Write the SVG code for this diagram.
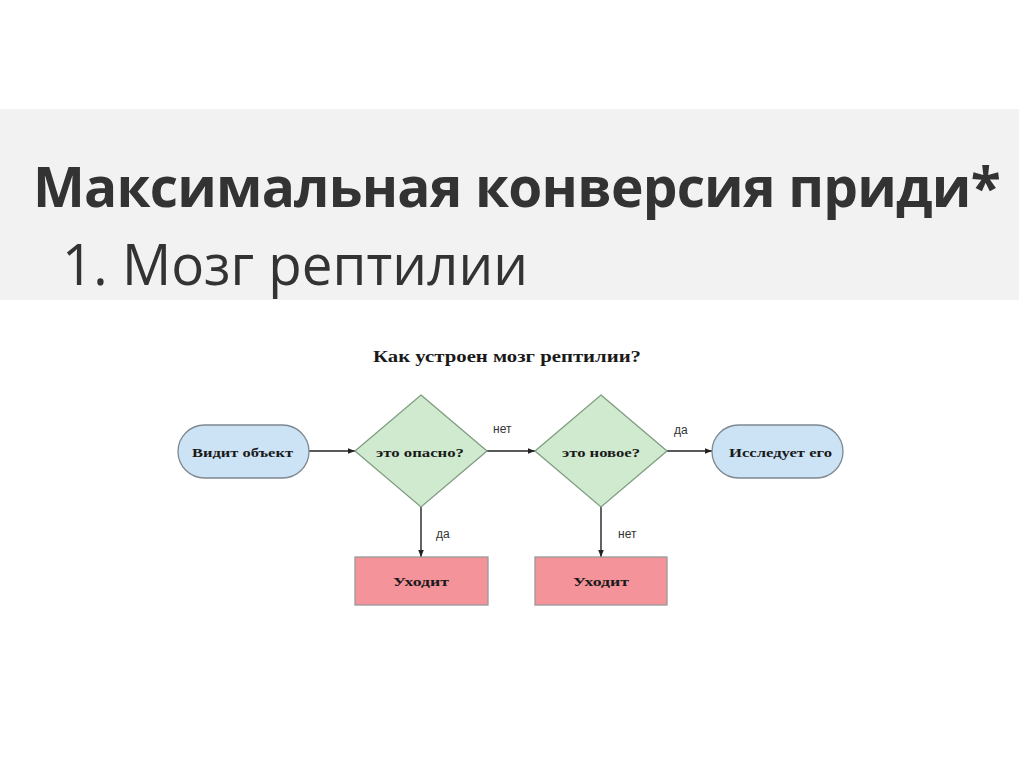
<svg xmlns="http://www.w3.org/2000/svg" width="1024" height="767" viewBox="0 0 1024 767">
<defs>
<style>
.h1{font-family:"Open Sans","Noto Sans",sans-serif;font-weight:700;font-size:55px;fill:#333}
.h2{font-family:"Open Sans","Noto Sans",sans-serif;font-weight:400;font-size:57px;fill:#333}
.dt{font-family:"Liberation Serif","DejaVu Serif",serif;font-weight:700;font-size:17px;fill:#1a1a1a}
.nt{font-family:"Liberation Serif","DejaVu Serif",serif;font-weight:700;font-size:13.5px;fill:#1a1a1a}
.lb{font-family:"Liberation Sans","Arial",sans-serif;font-size:12px;fill:#333}
.pill{fill:#cce2f5;stroke:#7d8890;stroke-width:1.3}
.dia{fill:#cfeacf;stroke:#7f9c80;stroke-width:1.3}
.box{fill:#f4939a;stroke:#999;stroke-width:1.3}
.edge{stroke:#222;stroke-width:1.4;fill:none;marker-end:url(#ah)}
</style>
<marker id="ah" viewBox="0 0 10 10" refX="10" refY="5" markerWidth="7" markerHeight="7" markerUnits="userSpaceOnUse" orient="auto">
<path d="M0,1 L10,5 L0,9 z" fill="#222"/>
</marker>
</defs>
<rect x="0" y="0" width="1024" height="767" fill="#ffffff"/>
<rect x="0" y="109" width="1019" height="191" fill="#f2f2f2"/>
<text class="h1" x="33" y="207" letter-spacing="-0.8">Максимальная конверсия приди*</text>
<text class="h2" x="62" y="285" textLength="466" lengthAdjust="spacingAndGlyphs">1. Мозг рептилии</text>
<text class="dt" x="373" y="362" textLength="268" lengthAdjust="spacingAndGlyphs">Как устроен мозг рептилии?</text>
<g id="connectors">
<line class="edge" x1="309" y1="451" x2="355" y2="451"/>
<line class="edge" x1="487" y1="451" x2="535" y2="451"/>
<line class="edge" x1="667" y1="451" x2="712" y2="451"/>
<line class="edge" x1="421" y1="507" x2="421" y2="557"/>
<line class="edge" x1="601" y1="507" x2="601" y2="557"/>
<text class="lb" x="493" y="433">нет</text>
<text class="lb" x="674" y="434">да</text>
<text class="lb" x="436" y="538">да</text>
<text class="lb" x="618" y="538">нет</text>
</g>
<g id="n-sees">
<rect class="pill" x="178" y="425" width="131" height="53" rx="26.5"/>
<text class="nt" x="192" y="457" textLength="101" lengthAdjust="spacingAndGlyphs">Видит объект</text>
</g>
<g id="n-danger">
<polygon class="dia" points="421,395 487,451 421,507 355,451"/>
<text class="nt" x="376" y="457" textLength="88" lengthAdjust="spacingAndGlyphs">это опасно?</text>
</g>
<g id="n-new">
<polygon class="dia" points="601,395 667,451 601,507 535,451"/>
<text class="nt" x="562" y="457" textLength="78" lengthAdjust="spacingAndGlyphs">это новое?</text>
</g>
<g id="n-explore">
<rect class="pill" x="712" y="425" width="131" height="53" rx="26.5"/>
<text class="nt" x="729" y="457" textLength="103" lengthAdjust="spacingAndGlyphs">Исследует его</text>
</g>
<g id="n-leave1">
<rect class="box" x="355" y="557" width="133" height="48"/>
<text class="nt" x="393" y="586" textLength="56" lengthAdjust="spacingAndGlyphs">Уходит</text>
</g>
<g id="n-leave2">
<rect class="box" x="535" y="557" width="132" height="48"/>
<text class="nt" x="573" y="586" textLength="56" lengthAdjust="spacingAndGlyphs">Уходит</text>
</g>
</svg>
